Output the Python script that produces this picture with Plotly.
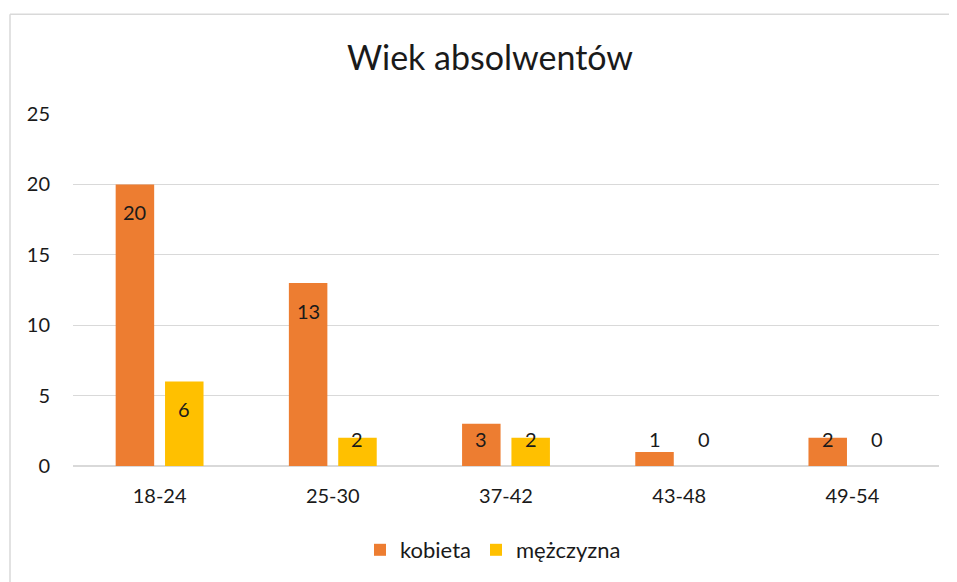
import plotly.graph_objects as go

categories = ["18-24", "25-30", "37-42", "43-48", "49-54"]
kobieta = [20, 13, 3, 1, 2]
mezczyzna = [6, 2, 2, 0, 0]
series_names = ["kobieta", "mężczyzna"]
colors = ["#ED7D31", "#FFC000"]
y_ticks = [0, 5, 10, 15, 20, 25]

FONT = "Lato, Carlito, Calibri, sans-serif"
TXT = "#1a1a1a"

OFF = 8  # page body margin
W, H = 957 - OFF, 582 - OFF
ML, MT = 73 - OFF, 114 - OFF
plot_w, plot_h = 866, 353
MR = W - ML - plot_w
MB = H - MT - plot_h
px_per_unit = plot_h / 25.0

fig = go.Figure()
for name, vals, col in zip(series_names, [kobieta, mezczyzna], colors):
    fig.add_trace(go.Bar(x=categories, y=vals, name=name, marker=dict(color=col, line=dict(width=0))))

# data labels (inside end, clamped like the reference)
slot = plot_w / len(categories) * (1 - 0.43) / 2
annotations = []
for si, vals in enumerate([kobieta, mezczyzna]):
    xs = -slot / 2 if si == 0 else slot / 2
    for c, v in zip(categories, vals):
        ly = max(v - 28 / px_per_unit, 27 / px_per_unit)
        annotations.append(dict(x=c, y=ly, xref="x", yref="y", text=str(v), showarrow=False,
                                xshift=xs, font=dict(family=FONT, size=20, color=TXT),
                                xanchor="center", yanchor="middle"))

# chart border (only left and top edges are visible in the crop)
x0 = (10 - OFF - ML) / plot_w
x1 = (W + 20 - ML) / plot_w
y1 = (MT + plot_h - (14 - OFF)) / plot_h
y0 = (MT + plot_h - (H + 20)) / plot_h
border = dict(color="#D9D9D9", width=1.5)

fig.update_layout(
    width=W, height=H,
    margin=dict(l=ML, r=MR, t=MT, b=MB),
    paper_bgcolor="white", plot_bgcolor="white",
    barmode="group", bargap=0.43, bargroupgap=0.22,
    title=dict(text="Wiek absolwentów", x=(490 - OFF) / W, xref="container", xanchor="center",
               y=1 - (58 - OFF) / H, yref="container", yanchor="middle",
               font=dict(family=FONT, size=34, color=TXT)),
    font=dict(family=FONT, size=20, color=TXT),
    legend=dict(orientation="h", x=(493 - OFF - ML) / plot_w, xanchor="center",
                y=(MT + plot_h - (550 - OFF)) / plot_h, yanchor="middle",
                font=dict(family=FONT, size=22, color=TXT), traceorder="normal",
                itemwidth=30),
    annotations=annotations,
    shapes=[
        dict(type="line", xref="paper", yref="paper", x0=x0, x1=x1, y0=y1, y1=y1, line=border, layer="below"),
        dict(type="line", xref="paper", yref="paper", x0=x0, x1=x0, y0=y0, y1=y1, line=border, layer="below"),
    ],
)
fig.update_yaxes(range=[0, 25], tickvals=y_ticks, showgrid=True, gridcolor="#D9D9D9", gridwidth=1,
                 zeroline=True, zerolinecolor="#D9D9D9", zerolinewidth=1.5, showline=False,
                 ticks="", ticklabelstandoff=22, tickfont=dict(family=FONT, size=20, color=TXT),
                 fixedrange=True)
fig.update_xaxes(showgrid=False, showline=False, ticks="", ticklabelstandoff=16,
                 tickfont=dict(family=FONT, size=20, color=TXT), fixedrange=True)

fig.write_html("out.html")
